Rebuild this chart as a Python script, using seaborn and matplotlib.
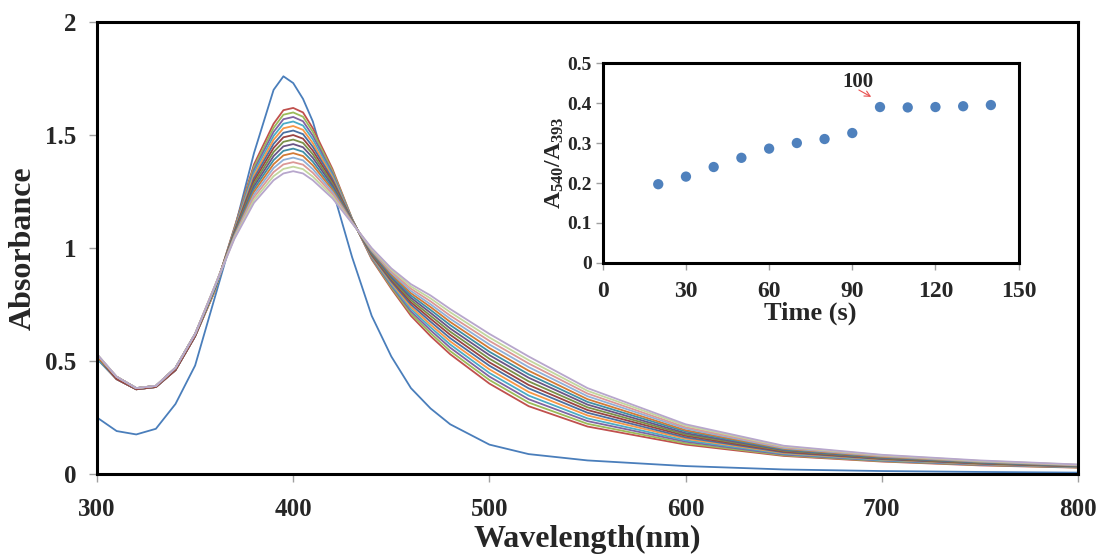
import matplotlib
matplotlib.use("Agg")
import matplotlib.pyplot as plt
import seaborn as sns
import pandas as pd

# ---- data ----
wavelength = [300, 310, 320, 330, 340, 350, 360, 370, 380, 390, 395, 400, 405, 410, 420,
              430, 440, 450, 460, 470, 480, 500, 520, 550, 600, 650, 700, 750, 800]

# initial spectrum (blue)
spec_00 = [.25, .19, .175, .20, .31, .48, .78, 1.08, 1.42, 1.70, 1.76, 1.73, 1.66, 1.56, 1.26,
           .96, .70, .52, .38, .29, .22, .13, .088, .06, .035, .02, .013, .009, .006]
# later spectra, highest peak first
spec_01 = [.51, .42, .375, .385, .46, .61, .81, 1.09, 1.37, 1.55, 1.61, 1.62, 1.60, 1.53, 1.35,
           1.13, .95, .82, .70, .61, .53, .40, .30, .21, .13, .08, .055, .038, .028]
spec_02 = [.51, .42, .375, .385, .46, .61, .81, 1.086, 1.358, 1.532, 1.59, 1.60, 1.581, 1.514, 1.341,
           1.129, .954, .826, .71, .623, .544, .416, .316, .222, .136, .083, .057, .040, .029]
spec_03 = [.51, .42, .375, .385, .46, .61, .81, 1.083, 1.346, 1.514, 1.57, 1.58, 1.561, 1.497, 1.331,
           1.127, .957, .833, .72, .636, .559, .431, .331, .234, .143, .086, .059, .041, .030]
spec_04 = [.51, .42, .375, .385, .46, .61, .81, 1.079, 1.334, 1.496, 1.55, 1.56, 1.542, 1.481, 1.322,
           1.126, .961, .839, .73, .649, .573, .447, .347, .246, .149, .09, .061, .043, .031]
spec_05 = [.52, .42, .375, .385, .46, .61, .81, 1.076, 1.321, 1.479, 1.53, 1.54, 1.523, 1.464, 1.313,
           1.124, .964, .846, .74, .661, .587, .463, .363, .259, .156, .093, .064, .044, .032]
spec_06 = [.52, .42, .375, .385, .46, .61, .82, 1.072, 1.309, 1.461, 1.51, 1.52, 1.504, 1.448, 1.304,
           1.123, .968, .852, .75, .674, .601, .479, .379, .271, .162, .096, .066, .046, .033]
spec_07 = [.52, .42, .375, .385, .46, .61, .82, 1.069, 1.297, 1.443, 1.49, 1.50, 1.484, 1.431, 1.294,
           1.121, .971, .859, .76, .687, .616, .494, .394, .283, .169, .099, .068, .047, .034]
spec_08 = [.52, .43, .38, .39, .47, .62, .82, 1.065, 1.285, 1.425, 1.47, 1.48, 1.465, 1.415, 1.285,
           1.12, .975, .865, .77, .70, .63, .51, .41, .295, .175, .103, .07, .049, .035]
spec_09 = [.52, .43, .38, .39, .47, .62, .82, 1.061, 1.273, 1.407, 1.45, 1.46, 1.446, 1.399, 1.276,
           1.119, .979, .871, .78, .713, .644, .526, .426, .307, .181, .106, .072, .051, .036]
spec_10 = [.52, .43, .38, .39, .47, .62, .82, 1.058, 1.261, 1.389, 1.43, 1.44, 1.426, 1.382, 1.266,
           1.117, .982, .878, .79, .726, .659, .541, .441, .319, .188, .109, .074, .052, .037]
spec_11 = [.52, .43, .38, .39, .47, .62, .83, 1.054, 1.249, 1.371, 1.41, 1.42, 1.407, 1.366, 1.257,
           1.116, .986, .884, .80, .739, .673, .557, .457, .331, .194, .112, .076, .054, .038]
spec_12 = [.53, .43, .38, .39, .47, .62, .83, 1.051, 1.236, 1.354, 1.39, 1.40, 1.388, 1.349, 1.248,
           1.114, .989, .891, .81, .751, .687, .573, .473, .344, .201, .115, .079, .055, .039]
spec_13 = [.53, .43, .38, .39, .47, .62, .83, 1.047, 1.224, 1.336, 1.37, 1.38, 1.369, 1.333, 1.239,
           1.113, .993, .897, .82, .764, .701, .589, .489, .356, .207, .119, .081, .057, .040]
spec_14 = [.53, .43, .38, .39, .47, .62, .83, 1.044, 1.212, 1.318, 1.35, 1.36, 1.349, 1.316, 1.229,
           1.111, .996, .904, .83, .777, .716, .604, .504, .368, .214, .122, .083, .058, .041]
spec_15 = [.53, .43, .38, .39, .47, .62, .83, 1.04, 1.20, 1.30, 1.33, 1.34, 1.33, 1.30, 1.22,
           1.11, 1.00, .91, .84, .79, .73, .62, .52, .38, .22, .125, .085, .06, .042]

# inset: A540/A393 vs time
time_s = [20, 30, 40, 50, 60, 70, 80, 90, 100, 110, 120, 130, 140]
ratio = [0.197, 0.216, 0.240, 0.263, 0.286, 0.300, 0.310, 0.325, 0.390, 0.389, 0.390, 0.392, 0.395]

# excel-like series colours (washed out a little, like the scan)
colors = ["#4A7EBB", "#C0504D", "#9BBB59", "#8064A2", "#4BACC6", "#F79646",
          "#4A6FA0", "#9A4442", "#7A9148", "#6A5585", "#3F8FA5", "#D27A35",
          "#8FB0D8", "#DB9896", "#C3D79E", "#B7A6CC"]

spectra = [spec_00, spec_01, spec_02, spec_03, spec_04, spec_05, spec_06, spec_07,
           spec_08, spec_09, spec_10, spec_11, spec_12, spec_13, spec_14, spec_15]

rows = []
for i, s in enumerate(spectra):
    for w, a in zip(wavelength, s):
        rows.append((i, w, a))
df = pd.DataFrame(rows, columns=["curve", "wavelength", "absorbance"])
ins_df = pd.DataFrame({"time": time_s, "ratio": ratio})

# ---- style ----
sns.set_style("white")
plt.rcParams["font.family"] = ["Liberation Serif", "DejaVu Serif"]
plt.rcParams["font.weight"] = "bold"
plt.rcParams["mathtext.fontset"] = "custom"
plt.rcParams["mathtext.rm"] = "Liberation Serif:bold"
plt.rcParams["mathtext.bf"] = "Liberation Serif:bold"
plt.rcParams["mathtext.it"] = "Liberation Serif:bold"

fig = plt.figure(figsize=(11, 5.6), dpi=100)
ax = fig.add_axes([0.0882, 0.1536, 0.8918, 0.807])

sns.lineplot(data=df, x="wavelength", y="absorbance", hue="curve", palette=colors,
             estimator=None, sort=False, legend=False, lw=1.3, ax=ax)

ax.set_xlim(300, 800)
ax.set_ylim(0, 2)
ax.set_xticks([300, 400, 500, 600, 700, 800])
ax.set_yticks([0, 0.5, 1, 1.5, 2])
ax.set_yticklabels(["0", "0.5", "1", "1.5", "2"])
ax.tick_params(axis="both", direction="out", length=6, width=1, color="#A0A0A0",
               labelsize=18, bottom=True, left=True)
ax.tick_params(axis="x", pad=11)
ax.tick_params(axis="y", pad=9)
ax.set_xlabel("Wavelength(nm)", fontsize=23, fontweight="bold", labelpad=3)
ax.set_ylabel("Absorbance", fontsize=23, fontweight="bold", labelpad=5)
for sp in ax.spines.values():
    sp.set_visible(True)
    sp.set_color("black")
    sp.set_linewidth(2.2)

# ---- inset ----
ins = fig.add_axes([0.548, 0.5304, 0.378, 0.357])
sns.scatterplot(data=ins_df, x="time", y="ratio", color="#4F81BD", s=55,
                edgecolor="none", ax=ins)
ins.set_xlim(0, 150)
ins.set_ylim(0, 0.5)
ins.set_xticks([0, 30, 60, 90, 120, 150])
ins.set_yticks([0, 0.1, 0.2, 0.3, 0.4, 0.5])
ins.set_yticklabels(["0", "0.1", "0.2", "0.3", "0.4", "0.5"])
ins.tick_params(axis="both", direction="out", length=5, width=1, color="#A0A0A0",
                bottom=True, left=True)
ins.tick_params(axis="x", labelsize=17, pad=8)
ins.tick_params(axis="y", labelsize=14, pad=3)
ins.set_xlabel("Time (s)", fontsize=19, fontweight="bold", labelpad=0)
ins.set_ylabel(r"A$_{540}$/A$_{393}$", fontsize=17, fontweight="bold", labelpad=1)
for sp in ins.spines.values():
    sp.set_visible(True)
    sp.set_color("black")
    sp.set_linewidth(2.2)

ins.text(92.2, 0.453, "100", fontsize=15, fontweight="bold", ha="center", va="center")
ins.annotate("", xy=(97.7, 0.412), xytext=(91.5, 0.436),
             arrowprops=dict(arrowstyle="->", color="#E8504F", lw=0.8))

fig.savefig("out.png", dpi=100)
